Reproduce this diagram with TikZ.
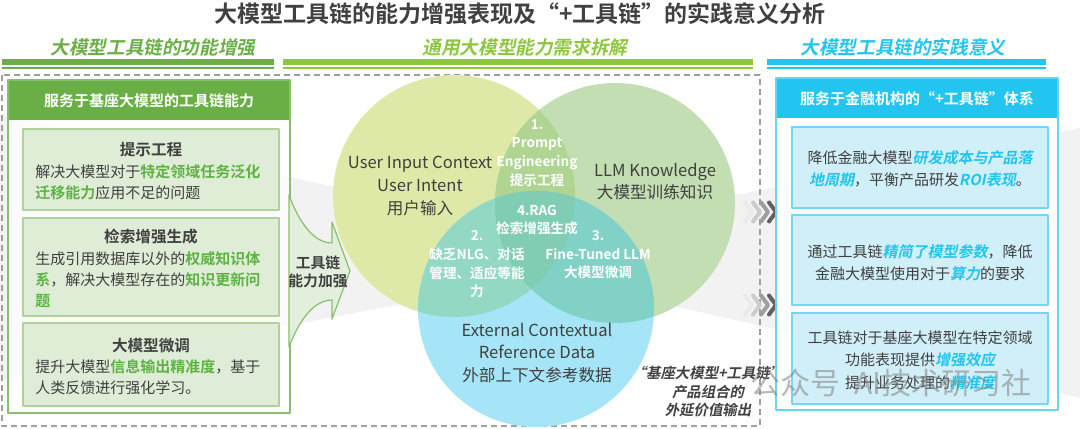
\documentclass[tikz,border=0pt]{standalone}
\usepackage{fontspec}
\setmainfont{Noto Sans CJK SC}[BoldFont=* Bold]
\newfontfamily\slantfont{Noto Sans CJK SC}[FakeSlant=0.2,BoldFont=* Bold,BoldFeatures={FakeSlant=0.2}]
\usepackage{tikz}
\definecolor{leafgreen}{HTML}{6AAF46}
\definecolor{limegreen}{HTML}{8DC63F}
\definecolor{skycyan}{HTML}{22C5F0}
\definecolor{hlgreen}{HTML}{5DB342}
\definecolor{boxgreen}{HTML}{DCEBD3}
\definecolor{boxcyan}{HTML}{CDEEF8}
\definecolor{inkgray}{HTML}{404040}
\definecolor{circA}{HTML}{DEE9A8}
\definecolor{circB}{HTML}{C2DEB2}
\definecolor{circC}{HTML}{A6E5F7}
\definecolor{lensAB}{HTML}{B0D593}
\definecolor{lensAC}{HTML}{93D8C2}
\definecolor{lensBC}{HTML}{82D1C6}
\definecolor{lensABC}{HTML}{80CDB4}

\begin{document}
\begin{tikzpicture}[x=0.5pt,y=-0.5pt,line join=round,
  title/.style={font=\fontsize{11.5}{13}\selectfont\bfseries,text=inkgray,inner sep=0pt},
  sechead/.style={font=\slantfont\fontsize{9.3}{11}\selectfont\bfseries,inner sep=0pt},
  bandtxt/.style={font=\fontsize{7.5}{9}\selectfont\bfseries,text=white,inner sep=0pt},
  boxtitle/.style={font=\fontsize{7.8}{9}\selectfont\bfseries,text=inkgray,inner sep=0pt},
  boxtxt/.style={font=\fontsize{7.5}{10.5}\selectfont,text=inkgray,inner sep=0pt,align=left},
  cardtxt/.style={font=\fontsize{7.5}{11.2}\selectfont,text=inkgray,inner sep=0pt,align=center},
  circtxt/.style={font=\fontsize{8.3}{11.3}\selectfont,text=inkgray,inner sep=0pt,align=center},
  lenstxt/.style={font=\fontsize{6.8}{9.3}\selectfont\bfseries,text=white,inner sep=0pt,align=center},
  quotetxt/.style={font=\slantfont\fontsize{7.2}{9.2}\selectfont\bfseries,text=inkgray,inner sep=0pt,align=center}]
\useasboundingbox (0,0) rectangle (1080,428);
  \def\hlg#1{\textcolor{hlgreen}{\bfseries #1}}
  \def\hlc#1{{\slantfont\bfseries\textcolor{skycyan}{#1}}}
  \def\circA{(454,196) circle (121)}
  \def\circB{(615,203) circle (120)}
  \def\circC{(536,309) circle (118)}
% ================= title and section headers =================
  \node[title] (title) at (520,14) {大模型工具链的能力增强表现及“+工具链”的实践意义分析};
  \node[sechead,text=leafgreen] (headL) at (153,47) {大模型工具链的功能增强};
  \node[sechead,text=limegreen] (headM) at (525,47) {通用大模型能力需求拆解};
  \node[sechead,text=skycyan]   (headR) at (903,47) {大模型工具链的实践意义};
  \fill[leafgreen] (2,59) rectangle (274,65);   \fill[leafgreen] (2,67) rectangle (274,68.5);
  \fill[limegreen] (283,59) rectangle (753,65); \fill[limegreen] (283,67) rectangle (753,68.5);
  \fill[skycyan] (767,59) rectangle (1046,65);  \fill[skycyan] (767,67) rectangle (1046,68.5);
% ================= background sweep =================
  \fill[black!5] (0,115) -- (545,232) -- (1080,128) -- (1080,398) -- (545,277) -- (0,380) -- cycle;
  \draw[gray!75,dash pattern=on 3pt off 2pt,line width=0.6pt] (2,75) rectangle (760,426);
% ================= left panel =================
  \fill[white,opacity=0.75] (8,80) rectangle (290,413);
  \fill[leafgreen] (8,80) rectangle (290,120);
  \draw[leafgreen!80,line width=0.8pt] (8,80) rectangle (290,413);
  \node[bandtxt] (bandL) at (149,101) {服务于基座大模型的工具链能力};
  \foreach \t/\b in {129/210,218/316,323/406}
    \draw[fill=boxgreen,fill opacity=0.9,draw=leafgreen!55,line width=0.6pt] (23,\t) rectangle (279,\b);
  \node[boxtitle] (promptT) at (151,150) {提示工程};
  \node[boxtxt,anchor=west] (promptB) at (35,182.5)
      {解决大模型对于\hlg{特定领域任务泛化}\\\hlg{迁移能力}应用不足的问题};
  \node[boxtitle] (ragT) at (151,237) {检索增强生成};
  \node[boxtxt,anchor=west] (ragB) at (35,279.5)
      {生成引用数据库以外的\hlg{权威知识体}\\\hlg{系}，解决大模型存在的\hlg{知识更新问}\\\hlg{题}};
  \node[boxtitle] (tuneT) at (151,346) {大模型微调};
  \node[boxtxt,anchor=west] (tuneB) at (35,377.5)
      {提升大模型\hlg{信息输出精准度}，基于\\人类反馈进行强化学习。};
  % the boosting arrow
  \draw[leafgreen!80,fill=boxgreen!80,line width=0.6pt] (289,195)
      .. controls (300,225) and (315,243) .. (332,243) -- (332,222) -- (350,271)
      -- (332,319) -- (332,300) .. controls (315,300) and (300,318) .. (289,347) -- cycle;
  \node[boxtitle,align=center,font=\fontsize{7.4}{9}\selectfont\bfseries] (boost) at (318,272) {工具链\\能力加强};
% ================= Venn circles =================
  \fill[circA] \circA;
  \fill[circB] \circB;
  \fill[circC] \circC;
  \begin{scope} \clip \circA; \fill[lensAB] \circB; \end{scope}
  \begin{scope} \clip \circA; \fill[lensAC] \circC; \end{scope}
  \begin{scope} \clip \circB; \fill[lensBC] \circC; \end{scope}
  \begin{scope} \clip \circA; \clip \circB; \fill[lensABC] \circC; \end{scope}
  \node[circtxt] (userCtx) at (420,186) {User Input Context\\User Intent\\用户输入};
  \node[circtxt] (llmKnow) at (655,181.5) {LLM Knowledge\\大模型训练知识};
  \node[circtxt] (extData) at (537,353) {External Contextual\\Reference Data\\外部上下文参考数据};
  \node[lenstxt] (lens1) at (537,153) {1.\\Prompt\\Engineering\\提示工程};
  \node[lenstxt] (lens4) at (537,220) {4.RAG\\检索增强生成};
  \node[lenstxt] (lens2) at (477,264.5) {2.\\缺乏NLG、对话\\管理、适应等能\\力};
  \node[lenstxt] (lens3) at (598,255) {3.\\Fine-Tuned LLM\\大模型微调};
  \node[quotetxt] (extValue) at (708,391.5) {“基座大模型+工具链”\\产品组合的\\外延价值输出};
  % chevrons towards the right panel
  \foreach \y in {212,305}
    \foreach \i/\c in {0/8,1/20,2/38,3/62}
      \draw[black!\c,line width=2pt,line cap=round] (745+\i*8,\y-9.5) -- (752+\i*8,\y) -- (745+\i*8,\y+9.5);
% ================= right panel =================
  \fill[white,opacity=0.7] (776,78) rectangle (1058,410);
  \fill[skycyan] (776,78) rectangle (1058,118);
  \draw[skycyan!70,line width=0.8pt] (776,78) rectangle (1058,410);
  \node[bandtxt] (bandR) at (917,99) {服务于金融机构的“+工具链”体系};
  \foreach \t/\b in {127/208,215/305,313/404}
    \draw[fill=boxcyan,fill opacity=0.9,draw=skycyan!65,line width=0.6pt] (792,\t) rectangle (1048,\b);
  \node[cardtxt] (costCard) at (920,169) {降低金融大模型\hlc{研发成本与产品落}\\\hlc{地周期}，平衡产品研发\hlc{ROI表现}。};
  \node[cardtxt] (paramCard) at (920,262.5) {通过工具链\hlc{精简了模型参数}，降低\\金融大模型使用对于\hlc{算力}的要求};
  \node[cardtxt] (effectCard) at (920,360) {工具链对于基座大模型在特定领域\\功能表现提供\hlc{增强效应}\\提升业务处理的\hlc{精准度}};
  % watermark
  \node[font=\fontsize{15}{17}\selectfont,text=gray,opacity=0.55,inner sep=0pt] (mark) at (891,383) {公众号\ \ AI技术研习社};
\end{tikzpicture}
\end{document}
